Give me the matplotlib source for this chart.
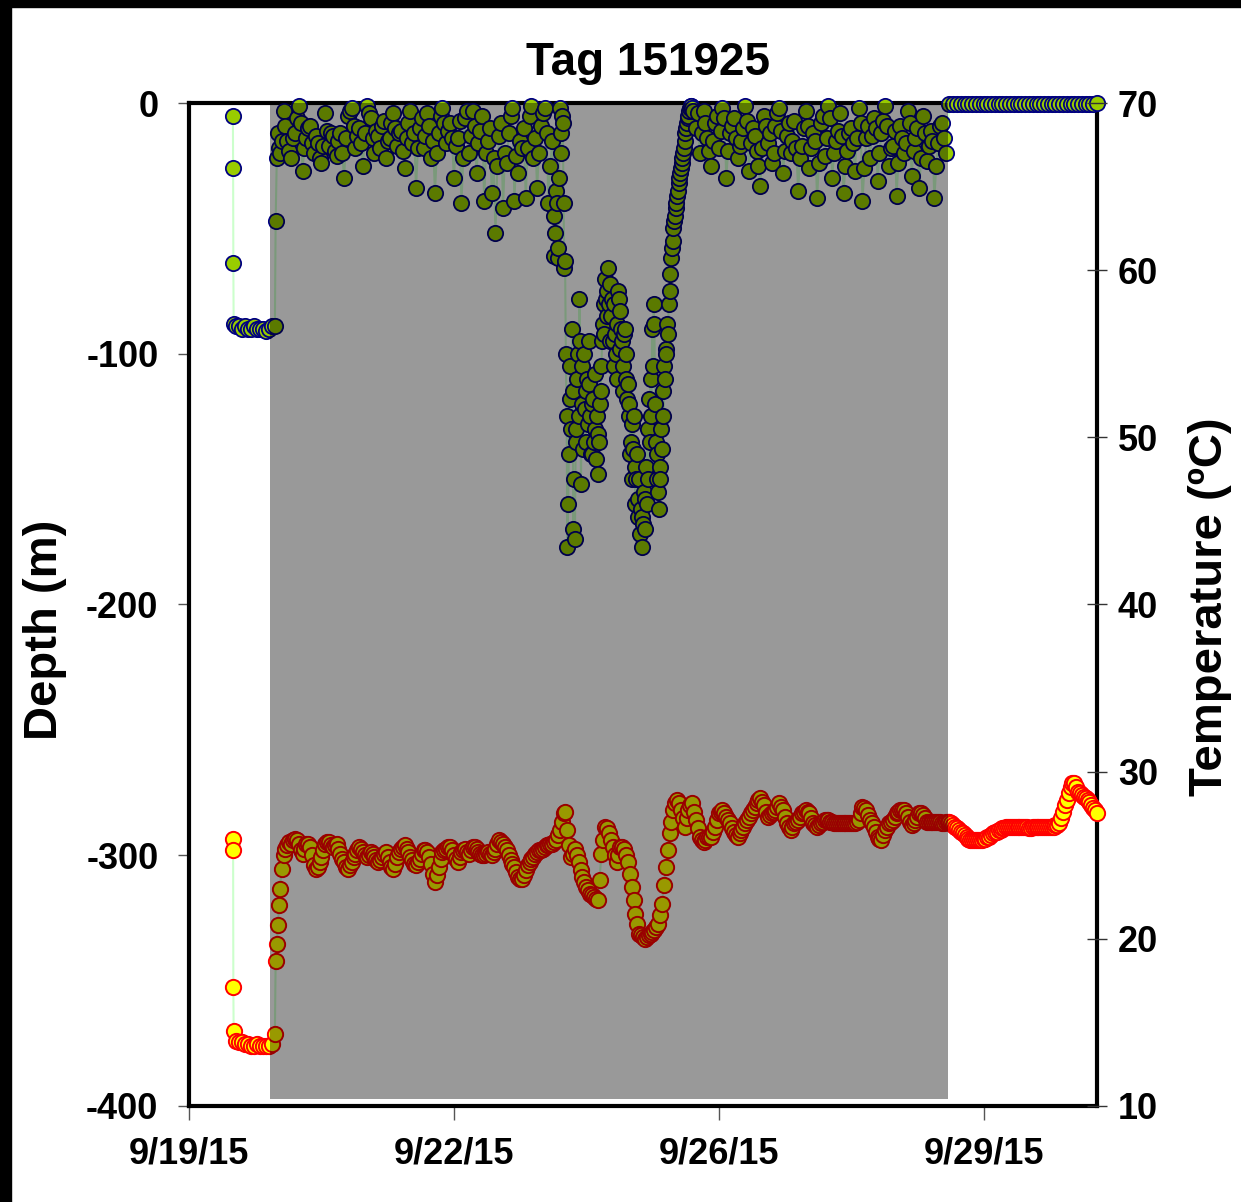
"""
Tag 151925 depth / temperature record, redrawn from the Excel chart.
x values are days after 9/19/15 00:00.
"""

from datetime import datetime, timedelta
import numpy as np
import matplotlib
matplotlib.use("Agg")
from matplotlib import pyplot as plt
from matplotlib.ticker import FuncFormatter
from matplotlib.patches import Rectangle

# ---- data -------------------------------------------------------------
start = datetime(2015, 9, 19)

# on deck / pre-release hang at ~90 m, then release
pre_days = [0.580, 0.583, 0.586, 0.590, 0.62, 0.66, 0.70, 0.74, 0.78, 0.82, 0.86,
            0.90, 0.94, 0.98, 1.02, 1.06, 1.10, 1.135, 1.145, 1.16, 1.175, 1.19]
pre_depth = [-5, -26, -64, -88, -89, -89, -90, -89, -90, -90, -89,
             -90, -90, -90, -91, -90, -89, -89, -47, -22, -12, -18]
pre_temp = [26.0, 25.3, 17.1, 14.5, 13.9, 13.8, 13.8, 13.7, 13.7, 13.6, 13.6,
            13.7, 13.6, 13.6, 13.6, 13.6, 13.7, 14.3, 18.7, 19.7, 20.8, 22.0]

# depth, 1.200 -> 4.800 every 0.025 d
depth_a = [-20, -15, -3, -9, -15, -19, -22, -14, -12, -6, -1, -8, -27, -18, -14, -10,
           -9, -16, -20, -13, -16, -22, -24, -17, -4, -11, -17, -12, -13, -19, -21, -15,
           -12, -20, -30, -14, -5, -3, -2, -9, -18, -13, -10, -16, -25, -12, -1, -4, -6, -14, -20, -11,
           -13, -18, -9, -7, -22, -15, -14, -8, -4, -10, -17, -12, -11, -19, -26, -14, -8, -3, -16, -12,
           -34, -18, -10, -6, -18, -13, -4, -9, -22, -15, -36, -20, -12, -5, -2, -8, -16, -11, -8, -14,
           -30, -17, -14, -7, -40, -22, -6, -3, -20, -13, -3, -9, -28, -16, -11, -5, -39, -20, -15, -10,
           -36, -22, -52, -25, -13, -8, -42, -20, -24, -12, -5, -2, -39, -21, -28, -15, -18, -10, -38, -18,
           -5, -1, -22, -14, -34, -20, -9, -4, -2, -12, -40, -25, -15]

# depth during the deep dives, 4.82 -> 6.66 every 0.01 d
depth_dive = [-45, -61, -52, -35, -40, -62, -58, -30, -2, -12,
              -20, -5, -8, -40, -66, -63, -100, -125, -177, -160,
              -140, -118, -105, -130, -90, -115, -170, -150, -174, -135,
              -130, -110, -100, -125, -78, -95, -152, -120, -105, -138,
              -100, -122, -135, -115, -110, -128, -95, -112, -125, -140,
              -140, -120, -118, -135, -108, -130, -142, -125, -148, -132,
              -135, -120, -115, -105, -95, -88, -80, -92, -70, -78,
              -75, -85, -66, -80, -72, -95, -85, -78, -95, -105,
              -80, -92, -100, -110, -88, -75, -78, -98, -83, -90,
              -95, -115, -105, -92, -90, -110, -100, -118, -112, -125,
              -120, -140, -135, -128, -150, -138, -125, -145, -160, -150,
              -140, -158, -165, -150, -172, -162, -177, -165, -168, -155,
              -158, -170, -145, -160, -130, -150, -118, -135, -110, -125,
              -90, -105, -80, -88, -120, -135, -140, -150, -155, -162,
              -145, -150, -130, -138, -115, -125, -105, -110, -98, -100,
              -88, -92, -80, -75, -68, -62, -58, -55, -50, -47,
              -45, -42, -40, -37, -35, -32, -30, -28, -26, -24,
              -22, -20, -18, -15, -12, -10, -8, -6, -5, -3,
              -2, -1, -1, -2, -3]

# depth, 6.700 -> 10.000 every 0.025 d
depth_b = [-10, -4, -20, -12, -3, -8, -14, -19, -25, -15, -8, -5,
           -18, -11, -2, -6, -30, -19, -12, -9, -6, -14, -22, -17, -15, -10, -1, -7, -27, -16, -10, -13,
           -19, -25, -33, -18, -5, -9, -16, -12, -24, -20, -9, -4, -2, -11, -28, -19, -13, -8, -20, -15,
           -7, -18, -35, -22, -17, -10, -3, -9, -26, -18, -12, -15, -38, -24, -8, -5, -21, -14, -1, -6,
           -30, -20, -15, -11, -4, -13, -36, -25, -19, -12, -10, -16, -27, -14, -2, -8, -39, -26, -14, -9,
           -22, -13, -6, -10, -31, -20, -12, -7, -1, -9, -25, -18, -17, -11, -37, -24, -9, -14, -20, -16,
           -3, -8, -29, -19, -14, -10, -34, -22, -5, -12, -23, -17, -11, -15, -38, -25, -16, -9, -8, -14,
           -20]

# popped off, floating: 10.05 -> 12.00 every 0.05 d
depth_post = [-0.5, -0.5, -0.5, -0.5, -0.5, -0.5, -0.5, -0.5, -0.5, -0.5,
              -0.5, -0.5, -0.5, -0.5, -0.5, -0.5, -0.5, -0.5, -0.5, -0.5,
              -0.5, -0.5, -0.5, -0.5, -0.5, -0.5, -0.5, -0.5, -0.5, -0.5,
              -0.5, -0.5, -0.5, -0.5, -0.5, -0.5, -0.5, -0.5, -0.5, 0.0]

# temperature, 1.200 -> 12.000 every 0.025 d
temp_main = [23.0, 24.2, 25.0, 25.4, 25.6, 25.8, 25.7, 25.9, 26.0, 25.9, 25.7, 25.3, 25.1, 25.4, 25.7, 25.7,
             25.5, 25.0, 24.4, 24.2, 24.3, 24.6, 24.9, 25.3, 25.7, 25.8, 25.8, 25.6, 25.5, 25.6, 25.7, 25.4,
             # 9/21
             25.1, 24.8, 24.6, 24.3, 24.2, 24.4, 24.6, 24.9, 25.1, 25.3, 25.5, 25.4, 25.2, 25.0, 24.9, 25.0, 25.2, 25.1, 24.9, 24.7,
             24.6, 24.7, 24.9, 25.1, 25.2, 24.9, 24.6, 24.3, 24.2, 24.5, 24.9, 25.2, 25.4, 25.5, 25.6, 25.4, 25.2, 24.9, 24.7, 24.5,
             # 9/22
             24.4, 24.6, 24.8, 25.1, 25.3, 25.3, 25.2, 24.9, 24.5, 23.9, 23.4, 23.8, 24.3, 24.8, 25.2, 25.3, 25.4, 25.5, 25.5, 25.3,
             25.0, 24.8, 24.6, 24.9, 25.2, 25.3, 25.4, 25.2, 25.1, 25.3, 25.5, 25.5, 25.4, 25.2, 25.1, 25.0, 25.0, 25.1, 25.2, 25.1,
             # 9/23
             25.0, 25.2, 25.4, 25.7, 25.9, 25.8, 25.7, 25.5, 25.3, 25.0, 24.7, 24.5, 24.3, 24.0, 23.7, 23.6, 23.6, 23.8, 24.1, 24.4,
             24.6, 24.8, 24.9, 25.1, 25.2, 25.3, 25.3, 25.4, 25.5, 25.6, 25.6, 25.7, 25.7, 25.8, 25.9, 26.2, 26.5, 27.0, 27.5, 27.6,
             # 9/24
             26.5, 25.6, 24.9, 25.1, 25.4, 25.0, 24.6, 24.1, 23.7, 23.4, 23.1, 22.9, 22.7, 22.6, 22.5, 22.4, 22.3, 23.5, 25.1, 25.9,
             26.7, 26.6, 26.3, 25.9, 25.5, 25.0, 24.6, 25.0, 25.5, 25.5, 25.4, 25.0, 24.6, 23.9, 23.1, 22.3, 21.5, 20.9, 20.3, 20.2,
             # 9/25
             20.1, 20.0, 20.1, 20.2, 20.3, 20.4, 20.5, 20.7, 20.9, 21.4, 22.1, 23.2, 24.3, 25.3, 26.3, 27.0, 27.7, 28.1, 28.3, 28.1,
             27.7, 27.2, 26.7, 27.2, 27.7, 28.0, 28.1, 27.6, 27.1, 26.6, 26.1, 25.9, 25.8, 25.9, 26.1, 26.1, 26.1, 26.4, 26.7, 27.1,
             # 9/26
             27.5, 27.6, 27.7, 27.5, 27.3, 27.1, 26.9, 26.6, 26.4, 26.2, 26.1, 26.3, 26.5, 26.7, 26.9, 27.1, 27.3, 27.5, 27.7, 27.9,
             28.1, 28.3, 28.4, 28.2, 28.0, 27.6, 27.3, 27.4, 27.5, 27.6, 27.7, 27.9, 28.1, 27.9, 27.7, 27.3, 26.9, 26.7, 26.5, 26.7,
             # 9/27
             26.9, 27.0, 27.1, 27.3, 27.5, 27.6, 27.7, 27.6, 27.5, 27.2, 26.9, 26.8, 26.7, 26.8, 26.9, 27.0, 27.1, 27.1, 27.1, 27.0,
             27.0, 26.9, 26.9, 26.9, 26.9, 26.9, 26.9, 26.9, 26.9, 26.9, 26.9, 26.9, 26.9, 27.0, 27.1, 27.5, 27.9, 27.8, 27.7, 27.4,
             # 9/28
             27.1, 26.9, 26.7, 26.4, 26.1, 26.0, 25.9, 26.2, 26.5, 26.7, 26.9, 27.0, 27.1, 27.3, 27.5, 27.6, 27.7, 27.7, 27.7, 27.5,
             27.3, 27.0, 26.8, 26.9, 27.1, 27.3, 27.5, 27.5, 27.4, 27.2, 27.0, 27.0, 27.0, 27.0, 27.0, 27.0, 27.0, 27.0, 26.9, 26.9,
             # 9/29
             27.0, 27.0, 27.0, 26.9, 26.8, 26.7, 26.6, 26.5, 26.4, 26.3, 26.2, 26.1, 26.0, 25.9, 25.9, 25.9, 25.9, 25.9, 25.9, 25.9,
             26.0, 26.0, 26.1, 26.1, 26.2, 26.3, 26.4, 26.4, 26.5, 26.5, 26.6, 26.6, 26.7, 26.7, 26.7, 26.7, 26.7, 26.7, 26.7, 26.7,
             # 9/30
             26.7, 26.7, 26.7, 26.7, 26.6, 26.6, 26.7, 26.7, 26.7, 26.7, 26.7, 26.7, 26.7, 26.7, 26.7, 26.7, 26.7, 26.7, 26.8, 26.8,
             26.9, 27.2, 27.6, 28.0, 28.3, 28.7, 29.1, 29.3, 29.3, 29.1, 28.8, 28.7, 28.6, 28.5, 28.4, 28.3, 28.2, 28.0, 27.8, 27.7,
             27.5]

# period the tag was on the fish (shaded)
tag_on = 1.07
tag_off = 10.03

# ---- time axes --------------------------------------------------------
t_a = 1.20 + 0.025 * np.arange(len(depth_a))
t_dive = 4.82 + 0.01 * np.arange(len(depth_dive))
t_b = 6.70 + 0.025 * np.arange(len(depth_b))
t_post = 10.05 + 0.05 * np.arange(len(depth_post))
t_temp = 1.20 + 0.025 * np.arange(len(temp_main))

depth_t = np.concatenate([pre_days, t_a, t_dive, t_b, t_post])
depth = np.concatenate([pre_depth, depth_a, depth_dive, depth_b, depth_post])
temp_t = np.concatenate([pre_days, t_temp])
temp = np.concatenate([pre_temp, temp_main])

# ---- plot -------------------------------------------------------------
plt.rcParams["font.family"] = ["Liberation Sans", "DejaVu Sans"]
plt.rcParams["font.weight"] = "bold"
plt.rcParams["axes.unicode_minus"] = False

fig = plt.figure(figsize=(12.41, 12.02), dpi=100)
ax = fig.add_axes([0.1523, 0.0799, 0.7317, 0.8344])
ax2 = ax.twinx()

ax.plot(depth_t, depth, color="#CCFFCC", lw=1.5, marker="o", ms=11,
        mfc="#99CC00", mec="#000080", mew=1.3, zorder=3, clip_on=False)
ax2.plot(temp_t, temp, color="#CCFFCC", lw=1.5, marker="o", ms=11,
         mfc="#FFFF00", mec="#FF0000", mew=1.4, zorder=3, clip_on=False)

# shaded tag period sits over the data
ax2.axvspan(tag_on, tag_off, ymin=0.007, ymax=1.0, color="black", alpha=0.4,
            lw=0, zorder=5)

ax.set_xlim(0, 12)
ax.set_ylim(-400, 0)
ax2.set_ylim(10, 70)

ax.set_xticks([0, 3.5, 7, 10.5])
def date_label(x, pos):
    d = start + timedelta(days=x)
    return "%d/%d/%s" % (d.month, d.day, d.strftime("%y"))
ax.xaxis.set_major_formatter(FuncFormatter(date_label))
ax.set_yticks([0, -100, -200, -300, -400])
ax2.set_yticks([10, 20, 30, 40, 50, 60, 70])

for s in ax.spines.values():
    s.set_linewidth(3)
    s.set_color("black")
for s in ax2.spines.values():
    s.set_visible(False)

ax.tick_params(axis="x", direction="out", length=10, width=1, color="#555555",
               labelsize=26, pad=12)
ax.tick_params(axis="y", direction="out", length=8, width=1, color="#555555",
               labelsize=26, pad=14)
ax2.tick_params(axis="y", direction="inout", length=14, width=1, color="#333333",
                labelsize=26, pad=8)

fig.text(648 / 1241, 1 - 63 / 1202, "Tag 151925", fontsize=33, fontweight="bold",
         ha="center", va="center")
fig.text(45 / 1241, 1 - 630 / 1202, "Depth (m)", fontsize=34, fontweight="bold",
         rotation=90, ha="center", va="center")
fig.text(1210 / 1241, 1 - 607 / 1202, "Temperature (ºC)", fontsize=34,
         fontweight="bold", rotation=90, ha="center", va="center")

# black frame edges at top and left of the picture
fig.patches.append(Rectangle((0, 0), 11 / 1241, 1, transform=fig.transFigure,
                             color="black", zorder=10))
fig.patches.append(Rectangle((0, 1 - 7 / 1202), 1, 7 / 1202, transform=fig.transFigure,
                             color="black", zorder=10))

fig.savefig("out.png", dpi=100)
plt.close()
